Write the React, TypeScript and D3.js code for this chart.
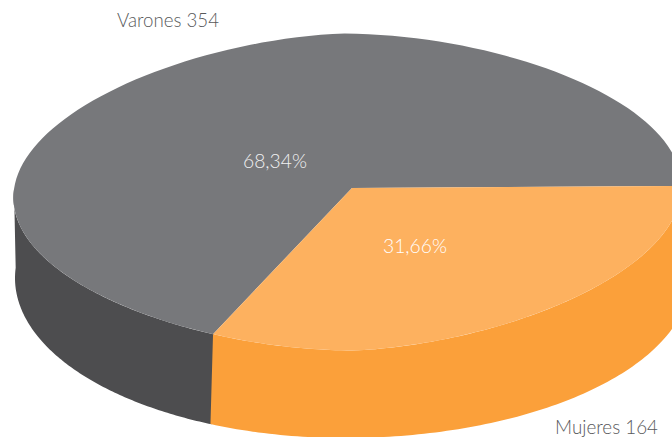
import React from "react";
import * as d3 from "d3";

const categories = ["Varones", "Mujeres"];
const counts = [354, 164];
const percentLabels = ["68,34%", "31,66%"];
const topColors = ["#77787b", "#fdb15f"];
const wallColors = ["#4d4d4f", "#fba03a"];

const W = 672, H = 437;
const cx = 347.5, cy = 192;
const rightVec: [number, number] = [334, -8.5];
const downVec: [number, number] = [7.5, 158.5];
const apex: [number, number] = [352, 188];
const low = { cx: 345, cy: 278, rxLeft: 330, rxRight: 345, ry: 160, shift: 0.016 };
const startDeg = 1;

const project = (a: number): [number, number] => {
  const u = Math.sin(a);
  // the hand-drawn outline is slightly more pointed than a true ellipse
  const v = -Math.cos(a) * (1 - 0.1 * Math.pow(Math.abs(u), 1.2));
  return [cx + rightVec[0] * u + downVec[0] * v, cy + rightVec[1] * u + downVec[1] * v];
};
const projectLow = (a: number): [number, number] => {
  const b = a - low.shift;
  const u = Math.sin(b);
  return [low.cx + (u > 0 ? low.rxRight : low.rxLeft) * u, low.cy - Math.cos(b) * low.ry];
};

const mujeresStart = Math.PI / 2 + (startDeg * Math.PI) / 180;
const mujeresSweep = (2 * Math.PI * counts[1]) / d3.sum(counts);
const pie = d3.pie<number>().sort(null)
  .startAngle(mujeresStart + mujeresSweep)
  .endAngle(mujeresStart + mujeresSweep + 2 * Math.PI);
const arcs = pie(counts);

const angles = (a0: number, a1: number) =>
  d3.range(0, 121).map((i) => a0 + ((a1 - a0) * i) / 120);
const line = d3.line();

const topPath = (a0: number, a1: number) => line([apex, ...angles(a0, a1).map(project)])! + "Z";
const wallPath = (a0: number, a1: number) => {
  const as = angles(a0, a1);
  return line([...as.map(project), ...as.map(projectLow).reverse()])! + "Z";
};

const textFont = "Lato, 'Open Sans', sans-serif";

export default function App() {
  const [v, m] = arcs;
  const leftLimit = (3 * Math.PI) / 2 + 0.08;
  return (
    <svg width={W} height={H} viewBox={`0 0 ${W} ${H}`}
      style={{ position: "absolute", left: 0, top: 0, background: "#fff" }}>
      <path d={wallPath(v.startAngle - 0.004, leftLimit)} fill={wallColors[0]} />
      <path d={wallPath(Math.PI / 2 - 0.05, m.endAngle - 2 * Math.PI)} fill={wallColors[1]} />
      <path d={topPath(v.startAngle, v.endAngle)} fill={topColors[0]} />
      <path d={topPath(m.startAngle, m.endAngle)} fill={topColors[1]} />
      <text x={117} y={27} fontFamily={textFont} fontWeight={300} fontSize={20} fill="#58595b"
        textLength={102} lengthAdjust="spacingAndGlyphs">{`${categories[0]} ${counts[0]}`}</text>
      <text x={555} y={434} fontFamily={textFont} fontWeight={300} fontSize={20} fill="#58595b"
        textLength={103} lengthAdjust="spacingAndGlyphs">{`${categories[1]} ${counts[1]}`}</text>
      <text x={243} y={168} fontFamily={textFont} fontWeight={300} fontSize={20} fill="#f1f1f2"
        textLength={64} lengthAdjust="spacingAndGlyphs">{percentLabels[0]}</text>
      <text x={383} y={253} fontFamily={textFont} fontWeight={300} fontSize={20} fill="#fff"
        textLength={64} lengthAdjust="spacingAndGlyphs">{percentLabels[1]}</text>
    </svg>
  );
}
